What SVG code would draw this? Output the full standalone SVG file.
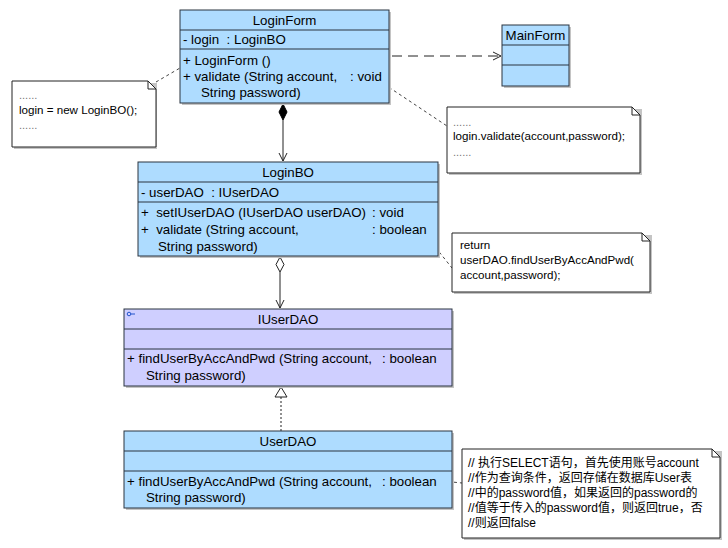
<svg xmlns="http://www.w3.org/2000/svg" width="728" height="548" viewBox="0 0 728 548" xml:space="preserve">
<defs>
<style>
.cls{fill:#AEDCFF;stroke:#2a3440;stroke-width:1}
.itf{fill:#CFCFFF;stroke:#2a3440;stroke-width:1}
.sh{fill:#c4c4c4}
.sep{stroke:#2a3440;stroke-width:1}
.t{font-family:"Liberation Sans",Arial,sans-serif;font-size:13.3px;fill:#000;white-space:pre}
.c{text-anchor:middle}
.note{fill:#fff;stroke:#222;stroke-width:1}
.nt{font-family:"Liberation Sans",Arial,sans-serif;font-size:11.6px;fill:#000}
.dots{font-family:"Liberation Sans",Arial,sans-serif;font-size:11px;fill:#777}
.cn{font-family:"Liberation Sans","Noto Sans CJK SC",sans-serif;font-size:12px;fill:#000}
.link{stroke:#444;stroke-width:1;stroke-dasharray:3,3;fill:none}
.ln{stroke:#222;stroke-width:1;fill:none}
</style>
<marker id="open" markerWidth="10" markerHeight="10" refX="9" refY="5" orient="auto" markerUnits="userSpaceOnUse">
<path d="M1,1 L9,5 L1,9" fill="none" stroke="#222" stroke-width="1"/>
</marker>
</defs>

<g id="connectors">
<line class="ln" x1="392" y1="56" x2="501" y2="56" stroke-dasharray="10,6" marker-end="url(#open)"/>
<line class="ln" x1="283" y1="120" x2="283" y2="161" marker-end="url(#open)"/>
<path d="M283,104 L287,112 L283,120 L279,112 Z" fill="#000" stroke="#000"/>
<line class="ln" x1="280" y1="272" x2="280" y2="308" marker-end="url(#open)"/>
<path d="M280,257 L284,264.5 L280,272 L276,264.5 Z" fill="#fff" stroke="#222"/>
<line class="ln" x1="281" y1="397" x2="281" y2="431" stroke-dasharray="2,2"/>
<path d="M281,387 L287,397 L275,397 Z" fill="#fff" stroke="#222"/>
<line class="link" x1="156" y1="82" x2="180" y2="68"/>
<line class="link" x1="384" y1="84" x2="447" y2="126"/>
<line class="link" x1="428" y1="238" x2="452" y2="268"/>
<line class="link" x1="442" y1="481" x2="462" y2="483"/>
</g>

<g id="LoginForm">
<rect class="sh" x="182" y="12" width="209" height="93"/>
<rect class="cls" x="180" y="10" width="209" height="93"/>
<line class="sep" x1="180" y1="30" x2="389" y2="30"/>
<line class="sep" x1="180" y1="49" x2="389" y2="49"/>
<text class="t c" x="284.5" y="25">LoginForm</text>
<text class="t" x="183" y="44">- login  : LoginBO</text>
<text class="t" x="183" y="65">+ LoginForm ()</text>
<text class="t" x="183" y="81">+ validate (String account,</text>
<text class="t" x="350" y="81">: void</text>
<text class="t" x="201" y="97">String password)</text>
</g>

<g id="MainForm">
<rect class="sh" x="504" y="27" width="67" height="61"/>
<rect class="cls" x="502" y="25" width="67" height="61"/>
<line class="sep" x1="502" y1="45" x2="569" y2="45"/>
<line class="sep" x1="502" y1="65" x2="569" y2="65"/>
<text class="t c" x="535.5" y="40">MainForm</text>
</g>

<g id="note1">
<rect class="sh" x="14" y="83" width="143" height="66"/>
<path class="note" d="M12,81 H148 L156,89 V147 H12 Z"/>
<path class="ln" d="M148,81 V89 H156"/>
<text class="dots" x="19" y="99">......</text>
<text class="nt" x="19" y="114">login = new LoginBO();</text>
<text class="dots" x="19" y="129">......</text>
</g>

<g id="note2">
<rect class="sh" x="449" y="109" width="193" height="66"/>
<path class="note" d="M447,107 H632 L640,115 V173 H447 Z"/>
<path class="ln" d="M632,107 V115 H640"/>
<text class="dots" x="453" y="126">......</text>
<text class="nt" x="453" y="140">login.validate(account,password);</text>
<text class="dots" x="453" y="156">......</text>
</g>

<g id="LoginBO">
<rect class="sh" x="140" y="164" width="300" height="94"/>
<rect class="cls" x="138" y="162" width="300" height="94"/>
<line class="sep" x1="138" y1="182" x2="438" y2="182"/>
<line class="sep" x1="138" y1="202" x2="438" y2="202"/>
<text class="t c" x="288" y="177">LoginBO</text>
<text class="t" x="141" y="197">- userDAO  : IUserDAO</text>
<text class="t" x="141" y="217">+  setIUserDAO (IUserDAO userDAO)</text>
<text class="t" x="372" y="217">: void</text>
<text class="t" x="141" y="234">+  validate (String account,</text>
<text class="t" x="372" y="234">: boolean</text>
<text class="t" x="158" y="251">String password)</text>
</g>

<g id="note3">
<rect class="sh" x="454" y="235" width="198" height="59"/>
<path class="note" d="M452,233 H642 L650,241 V292 H452 Z"/>
<path class="ln" d="M642,233 V241 H650"/>
<text class="nt" x="460" y="249">return</text>
<text class="nt" x="460" y="264">userDAO.findUserByAccAndPwd(</text>
<text class="nt" x="460" y="279">account,password);</text>
</g>

<g id="IUserDAO">
<rect class="sh" x="126" y="311" width="328" height="77"/>
<rect class="itf" x="124" y="309" width="328" height="77"/>
<line class="sep" x1="124" y1="329" x2="452" y2="329"/>
<line class="sep" x1="124" y1="349" x2="452" y2="349"/>
<circle cx="129" cy="314" r="1.8" fill="none" stroke="#2255cc" stroke-width="1"/>
<line x1="131" y1="314" x2="135" y2="314" stroke="#2255cc" stroke-width="1"/>
<text class="t c" x="288" y="324">IUserDAO</text>
<text class="t" x="127" y="363">+ findUserByAccAndPwd (String account,</text>
<text class="t" x="382" y="363">: boolean</text>
<text class="t" x="146" y="380">String password)</text>
</g>

<g id="UserDAO">
<rect class="sh" x="126" y="433" width="328" height="77"/>
<rect class="cls" x="124" y="431" width="328" height="77"/>
<line class="sep" x1="124" y1="451" x2="452" y2="451"/>
<line class="sep" x1="124" y1="471" x2="452" y2="471"/>
<text class="t c" x="288" y="446">UserDAO</text>
<text class="t" x="127" y="486">+ findUserByAccAndPwd (String account,</text>
<text class="t" x="382" y="486">: boolean</text>
<text class="t" x="146" y="502">String password)</text>
</g>

<g id="note4">
<rect class="sh" x="464" y="451" width="258" height="89"/>
<path class="note" d="M462,449 H712 L720,457 V538 H462 Z"/>
<path class="ln" d="M712,449 V457 H720"/>
<text class="cn" x="468" y="467">// 执行SELECT语句，首先使用账号account</text>
<text class="cn" x="468" y="482">//作为查询条件，返回存储在数据库User表</text>
<text class="cn" x="468" y="497">//中的password值，如果返回的password的</text>
<text class="cn" x="468" y="512">//值等于传入的password值，则返回true，否</text>
<text class="cn" x="468" y="527">//则返回false</text>
</g>
</svg>
